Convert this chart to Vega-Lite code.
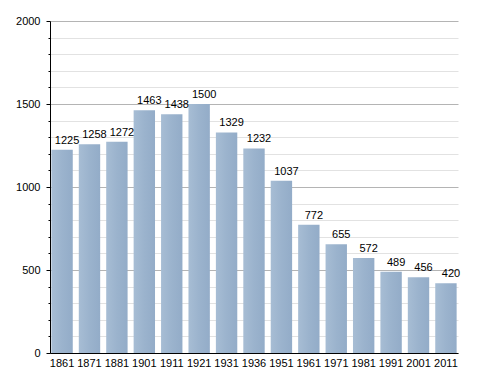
{
  "$schema": "https://vega.github.io/schema/vega-lite/v6.json",
  "width": 408,
  "height": 332,
  "autosize": "none",
  "padding": {"left": 50, "top": 21, "right": 30, "bottom": 20},
  "background": "white",
  "config": {
    "view": {"stroke": null},
    "font": "Liberation Sans",
    "axis": {"labelFont": "Liberation Sans", "labelFontSize": 11, "labelColor": "#000"}
  },
  "data": {
    "values": [
      {"year": "1861", "pop": 1225},
      {"year": "1871", "pop": 1258},
      {"year": "1881", "pop": 1272},
      {"year": "1901", "pop": 1463},
      {"year": "1911", "pop": 1438},
      {"year": "1921", "pop": 1500},
      {"year": "1931", "pop": 1329},
      {"year": "1936", "pop": 1232},
      {"year": "1951", "pop": 1037},
      {"year": "1961", "pop": 772},
      {"year": "1971", "pop": 655},
      {"year": "1981", "pop": 572},
      {"year": "1991", "pop": 489},
      {"year": "2001", "pop": 456},
      {"year": "2011", "pop": 420}
    ]
  },
  "encoding": {
    "x": {
      "field": "year", "type": "ordinal", "sort": null,
      "scale": {"paddingInner": 0.22, "paddingOuter": 0.05},
      "axis": {"title": null, "labelAngle": 0, "ticks": false, "domainColor": "#000", "domainWidth": 1, "labelPadding": 4, "grid": false}
    },
    "y": {
      "field": "pop", "type": "quantitative",
      "scale": {"domain": [0, 2000], "nice": false},
      "axis": null
    }
  },
  "layer": [
    {
      "mark": {"type": "rule"},
      "encoding": {
        "y": {
          "field": "pop", "type": "quantitative",
          "scale": {"domain": [0, 2000], "nice": false},
          "axis": {
            "orient": "left", "title": null,
            "values": [100,200,300,400,600,700,800,900,1100,1200,1300,1400,1600,1700,1800,1900],
            "labels": false, "tickSize": 2, "tickColor": "#000", "domain": false,
            "grid": true, "gridColor": "#e2e2e2", "gridWidth": 1
          }
        },
        "x": {"value": 0},
        "opacity": {"value": 0}
      }
    },
    {
      "mark": {"type": "rule"},
      "encoding": {
        "y": {
          "field": "pop", "type": "quantitative",
          "scale": {"domain": [0, 2000], "nice": false},
          "axis": {
            "orient": "left", "title": null, "values": [0, 500, 1000, 1500, 2000],
            "format": "d",
            "tickSize": 4, "tickColor": "#000", "domainColor": "#000",
            "labelPadding": 6,
            "grid": true, "gridColor": "#b4b4b4", "gridWidth": 1
          }
        },
        "x": {"value": 0},
        "opacity": {"value": 0}
      }
    },
    {
      "mark": {
        "type": "bar",
        "color": {
          "x1": 0, "y1": 0, "x2": 1, "y2": 0,
          "gradient": "linear",
          "stops": [
            {"offset": 0, "color": "#a7bdd4"},
            {"offset": 0.5, "color": "#9bb3cd"},
            {"offset": 1, "color": "#93acc8"}
          ]
        }
      }
    },
    {
      "mark": {"type": "text", "baseline": "bottom", "dy": -4, "dx": 5, "fontSize": 11, "color": "#000"},
      "encoding": {"text": {"field": "pop", "type": "quantitative"}}
    }
  ],
  "resolve": {"axis": {"y": "independent"}}
}
